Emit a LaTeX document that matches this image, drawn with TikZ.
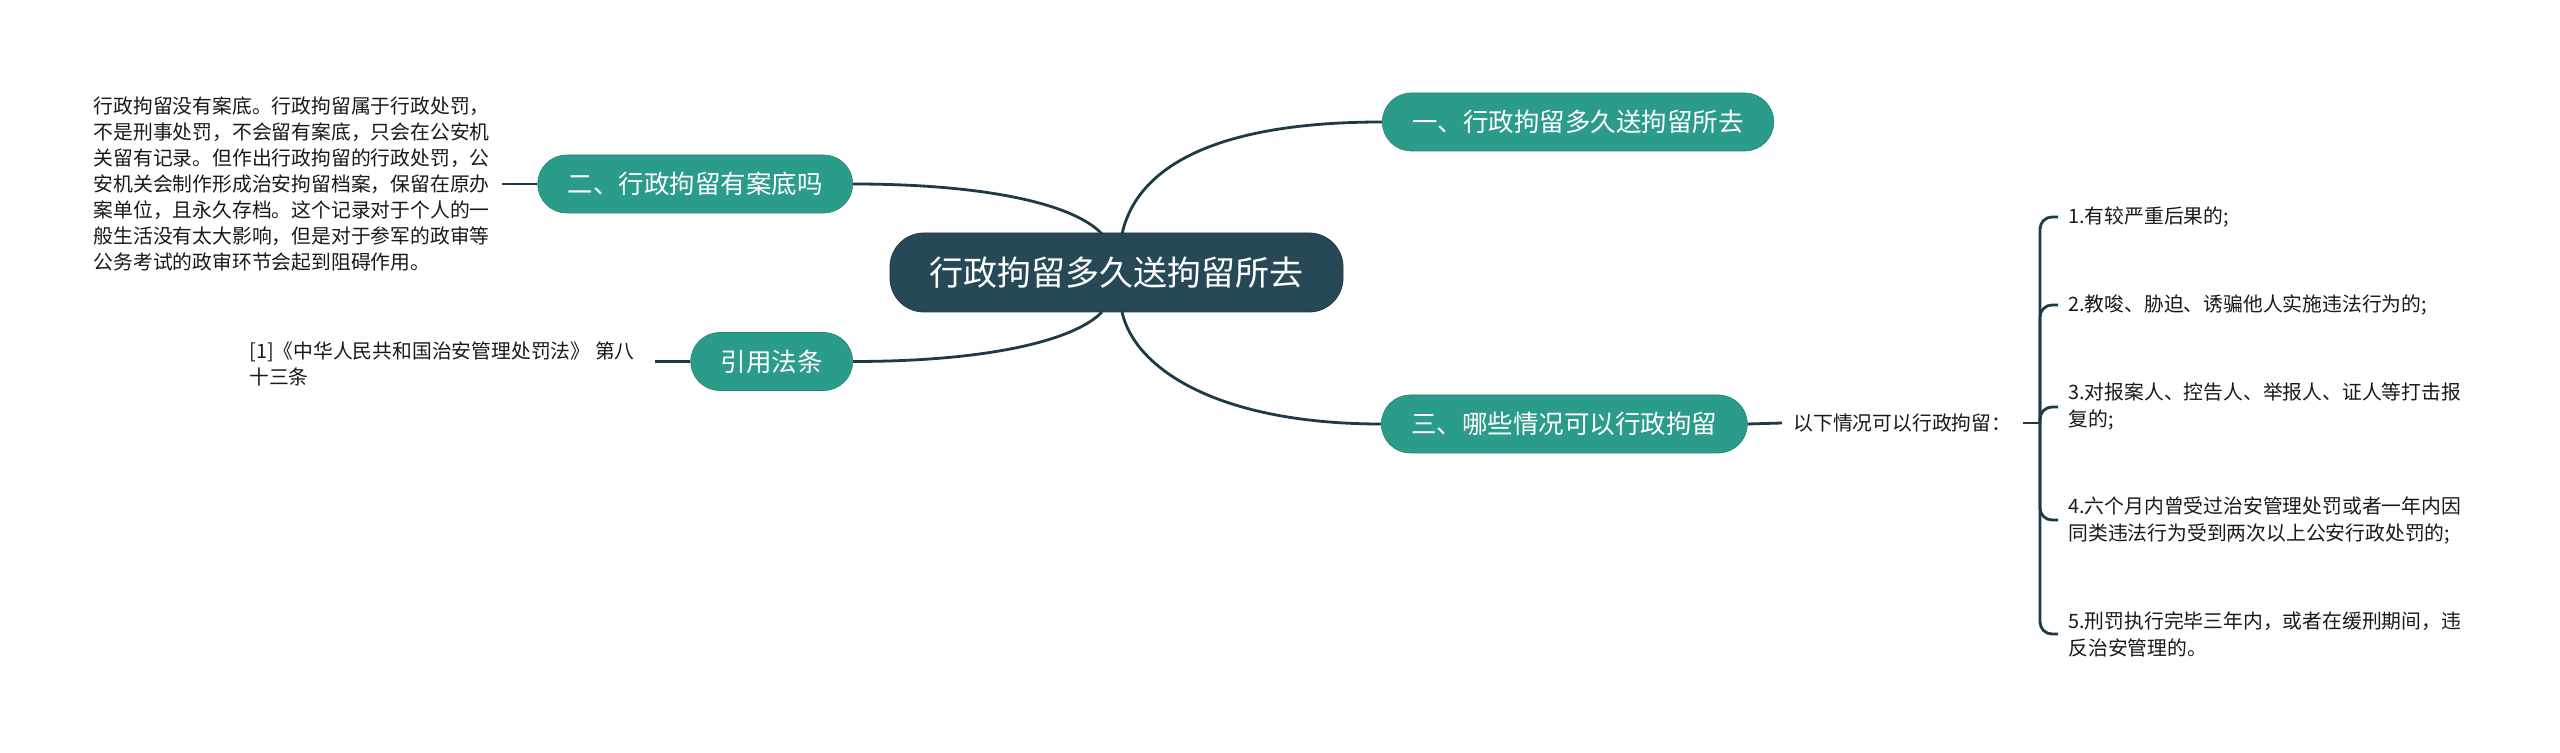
\documentclass[tikz,border=0pt]{standalone}
\usepackage{fontspec}
\setmainfont{Noto Sans CJK SC}
\definecolor{teal1}{RGB}{43,155,138}
\definecolor{navy1}{RGB}{39,73,87}
\definecolor{line1}{RGB}{30,58,70}
\definecolor{txt1}{RGB}{25,25,25}
\tikzset{
  central/.style={fill=navy1, draw=navy1!80!black, line width=0.4pt, rounded corners=17pt, text=white,
    minimum width=226.5pt, minimum height=39.5pt, inner sep=0pt, font=\fontsize{17pt}{20pt}\selectfont},
  topic/.style={fill=teal1, draw=teal1!85!black, line width=0.3pt, rounded corners=14.5pt, text=white,
    minimum height=29pt, inner xsep=15pt, inner ysep=0pt, font=\fontsize{12.75pt}{15pt}\selectfont},
  leaf/.style={text=txt1, align=left, inner ysep=2pt, font=\fontsize{9.9pt}{13pt}\selectfont},
  conn/.style={draw=line1, line width=1.4pt},
}
\begin{document}
\begin{tikzpicture}[x=0.5pt,y=-0.5pt]
\useasboundingbox[fill=white] (0,0) rectangle (2560,753);

% central
\node[central] (c) at (1116.5,272.5) {行政拘留多久送拘留所去};
\coordinate (cnl) at (1102,234);
\coordinate (cnr) at (1122,234);
\coordinate (csl) at (1102,312);
\coordinate (csr) at (1122,312);

% topics
\node[topic, anchor=west] (t1) at (1382,122) {一、行政拘留多久送拘留所去};
\node[topic, anchor=east] (t2) at (853,184) {二、行政拘留有案底吗};
\node[topic, anchor=west] (t3) at (1381,424) {三、哪些情况可以行政拘留};
\node[topic, anchor=east] (t4) at (853,361.5) {引用法条};

\draw[conn] (t2.east) .. controls (990,184) and (1075,205) .. (cnl);
\draw[conn] (cnr) .. controls (1135,175) and (1200,122) .. (t1.west);
\draw[conn] (csl) .. controls (1075,340) and (990,361.5) .. (t4.east);
\draw[conn] (csr) .. controls (1135,370) and (1220,424) .. (t3.west);

% left leaves
\node[leaf, anchor=east, inner xsep=6pt] (l2) at (539-37+0,184) {行政拘留没有案底。行政拘留属于行政处罚，\\不是刑事处罚，不会留有案底，只会在公安机\\关留有记录。但作出行政拘留的行政处罚，公\\安机关会制作形成治安拘留档案，保留在原办\\案单位，且永久存档。这个记录对于个人的一\\般生活没有太大影响，但是对于参军的政审等\\公务考试的政审环节会起到阻碍作用。};
\draw[conn] (l2.east) -- (t2.west);

\node[leaf, anchor=east, inner xsep=10pt] (l4) at (655,364) {[1]《中华人民共和国治安管理处罚法》 第八\\十三条};
\draw[conn] (l4.east |- t4.west) -- (t4.west);

% right side
\node[leaf, anchor=west, inner xsep=5.5pt] (l3) at (1782,423) {以下情况可以行政拘留：};
\draw[conn] (t3.east) -- (l3.west);
\coordinate (br) at (2040,423);
\draw[conn] (l3.east) -- (br);

\node[leaf, anchor=west, inner xsep=5pt, font=\fontsize{9.9pt}{13.5pt}\selectfont] (i1) at (2058,217) {1.有较严重后果的;};
\node[leaf, anchor=west, inner xsep=5pt, font=\fontsize{9.9pt}{13.5pt}\selectfont] (i2) at (2058,305) {2.教唆、胁迫、诱骗他人实施违法行为的;};
\node[leaf, anchor=west, inner xsep=5pt, font=\fontsize{9.9pt}{13.5pt}\selectfont] (i3) at (2058,407) {3.对报案人、控告人、举报人、证人等打击报\\复的;};
\node[leaf, anchor=west, inner xsep=5pt, font=\fontsize{9.9pt}{13.5pt}\selectfont] (i4) at (2058,520) {4.六个月内曾受过治安管理处罚或者一年内因\\同类违法行为受到两次以上公安行政处罚的;};
\node[leaf, anchor=west, inner xsep=5pt, font=\fontsize{9.9pt}{13.5pt}\selectfont] (i5) at (2058,634) {5.刑罚执行完毕三年内，或者在缓刑期间，违\\反治安管理的。};

\foreach \i in {i1,i2,i3,i4,i5}{
  \draw[conn, rounded corners=6pt] (br) |- (\i.west);
}
\end{tikzpicture}
\end{document}
